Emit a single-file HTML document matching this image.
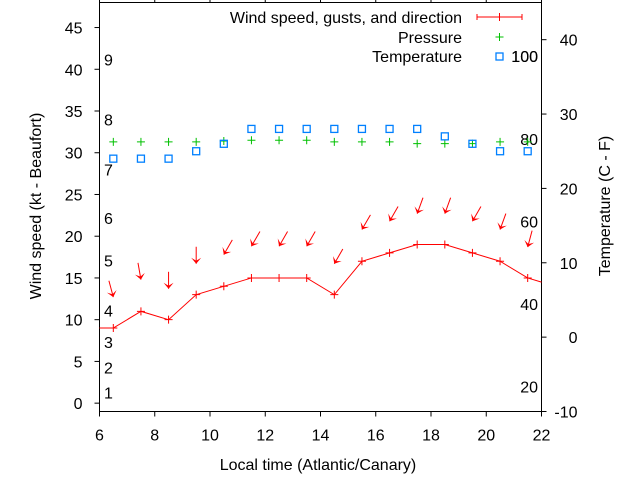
<!DOCTYPE html>
<html><head><meta charset="utf-8"><style>
body{margin:0;background:#fff}
svg{display:block;font-family:"Liberation Sans",sans-serif;font-size:16px}
</style></head><body>
<svg id="c" width="640" height="480" viewBox="0 0 640 480"></svg>
<script>
const times=[6.5,7.5,8.5,9.5,10.5,11.5,12.5,13.5,14.5,15.5,16.5,17.5,18.5,19.5,20.5,21.5];
const windSpeed=[9,11,10,13,14,15,15,15,13,17,18,19,19,18,17,15];
const windEdgeStart=9, windEdgeEnd=14.5;
const gusts=[12.7,14.8,13.7,16.7,17.8,18.8,18.8,18.8,16.7,20.8,21.8,22.7,22.7,21.8,20.8,18.7];
const windDir=[345,350,0,0,30,30,30,30,30,30,30,20,20,30,20,15];
const pressure=[31.3,31.3,31.3,31.3,31.4,31.5,31.5,31.5,31.3,31.3,31.3,31.1,31.1,31.1,31.3,31.3];
const temperature=[24,24,24,25,26,28,28,28,28,28,28,28,27,26,25,25];
const xTicks=[6,8,10,12,14,16,18,20,22];
const yTicks=[0,5,10,15,20,25,30,35,40,45];
const y2Ticks=[-10,0,10,20,30,40];
const beaufortLabels=["1","2","3","4","5","6","7","8","9"];
const beaufortPos=[1.3,4.3,7.3,11.1,17.1,22.2,28,34,41.2];
const fLabels=[20,40,60,80,100];

const L=99.5,R=541.5,T=2.5,B=411.5;
const X=v=>L+(v-6)/(22-6)*(R-L);
const Y=v=>B-(v+1)/(48+1)*(B-T);
const Y2=v=>B-(v+10)/(45+10)*(B-T);
const svg=document.getElementById('c');
const NS='http://www.w3.org/2000/svg';
function mk(tag,attrs,parent){const e=document.createElementNS(NS,tag);for(const k in attrs)e.setAttribute(k,attrs[k]);(parent||svg).appendChild(e);return e;}

const frame=mk('rect',{x:L,y:T,width:R-L,height:B-T,fill:'none',stroke:'#000','stroke-width':1});



xTicks.forEach(t=>{
  const g=mk('g',{});
  
  
  mk('line',{x1:X(t),x2:X(t),y1:B,y2:B+5,stroke:'#000'},g);
  mk('line',{x1:X(t),x2:X(t),y1:T,y2:T-5,stroke:'#000'},g);
  const tx=mk('text',{x:X(t),y:B+29,'text-anchor':'middle'},g);tx.textContent=t;
});
yTicks.forEach(t=>{
  const g=mk('g',{});
  
  
  mk('line',{x1:L-5,x2:L,y1:Y(t),y2:Y(t),stroke:'#000'},g);
  const tx=mk('text',{x:L-17,y:Y(t)+6,'text-anchor':'end'},g);tx.textContent=t;
});
y2Ticks.forEach(t=>{
  const g=mk('g',{});
  
  
  mk('line',{x1:R,x2:R+5,y1:Y2(t),y2:Y2(t),stroke:'#000'},g);
  const tx=mk('text',{x:R+36,y:Y2(t)+6,'text-anchor':'end'},g);tx.textContent=t;
});
beaufortLabels.forEach((s,i)=>{
  const tx=mk('text',{x:104,y:Y(beaufortPos[i])+6});
  
  
  tx.textContent=s;
});
fLabels.forEach(f=>{
  const tx=mk('text',{x:538,y:Y2((f-32)*5/9)+6,'text-anchor':'end'});
  
  
  tx.textContent=f;
});

let pts=[[X(6),Y(windEdgeStart)]].concat(times.map((t,i)=>[X(t),Y(windSpeed[i])])).concat([[X(22),Y(windEdgeEnd)]]);
const wl=mk('polyline',{points:pts.map(p=>p.join(',')).join(' '),fill:'none',stroke:'#f00','stroke-width':1});


times.forEach((t,i)=>{
  const x=X(t),y=Y(windSpeed[i]);
  const p=mk('path',{d:`M${x-4},${y}h8M${x},${y-4}v8`,stroke:'#f00'});
  
  
});
times.forEach((t,i)=>{
  const x=X(t),y=Y(gusts[i]);const a=windDir[i]*Math.PI/180;
  const dx=Math.sin(a),dy=-Math.cos(a);const len=17;
  const tx=x+dx*len,ty=y+dy*len;
  const px=-dy,py=dx;
  const g=mk('g',{});
  
  
  mk('line',{x1:tx,y1:ty,x2:x,y2:y,stroke:'#f00','stroke-width':1},g);
  const bx=x+dx*6,by=y+dy*6;
  mk('polygon',{points:`${x},${y} ${bx+px*5},${by+py*5} ${x+dx*3},${y+dy*3} ${bx-px*5},${by-py*5}`,fill:'#f00'},g);
});
times.forEach((t,i)=>{
  const x=X(t),y=Y(pressure[i]);
  const p=mk('path',{d:`M${x-4},${y}h8M${x},${y-4}v8`,stroke:'#00c000'});
  
  
});
times.forEach((t,i)=>{
  const r=mk('rect',{x:X(t)-3.5,y:Y2(temperature[i])-3.5,width:7,height:7,fill:'none',stroke:'#0080ff','stroke-width':1.3});
  
  
});

const lg=mk('g',{});


[["Wind speed, gusts, and direction",23],["Pressure",43],["Temperature",62]].forEach(([s,y])=>{
  const t=mk('text',{x:462,y:y,'text-anchor':'end'},lg);t.textContent=s;
});
mk('path',{d:'M477,17h45M477,14v6M522,14v6M499.5,13v8',stroke:'#f00'},lg);
mk('path',{d:'M495.5,37h8M499.5,33v8',stroke:'#00c000'},lg);
mk('rect',{x:496,y:53,width:7,height:7,fill:'none',stroke:'#0080ff','stroke-width':1.3},lg);
const h=mk('text',{x:538,y:62,'text-anchor':'end'},lg);h.textContent='100';

const xt=mk('text',{x:318,y:470,'text-anchor':'middle'});


xt.textContent='Local time (Atlantic/Canary)';
const yt=mk('text',{x:0,y:0,'text-anchor':'middle',transform:'translate(41,206) rotate(-90)'});


yt.textContent='Wind speed (kt - Beaufort)';
const y2t=mk('text',{x:0,y:0,'text-anchor':'middle',transform:'translate(610,206) rotate(-90)'});


y2t.textContent='Temperature (C - F)';
</script>
</body></html>
